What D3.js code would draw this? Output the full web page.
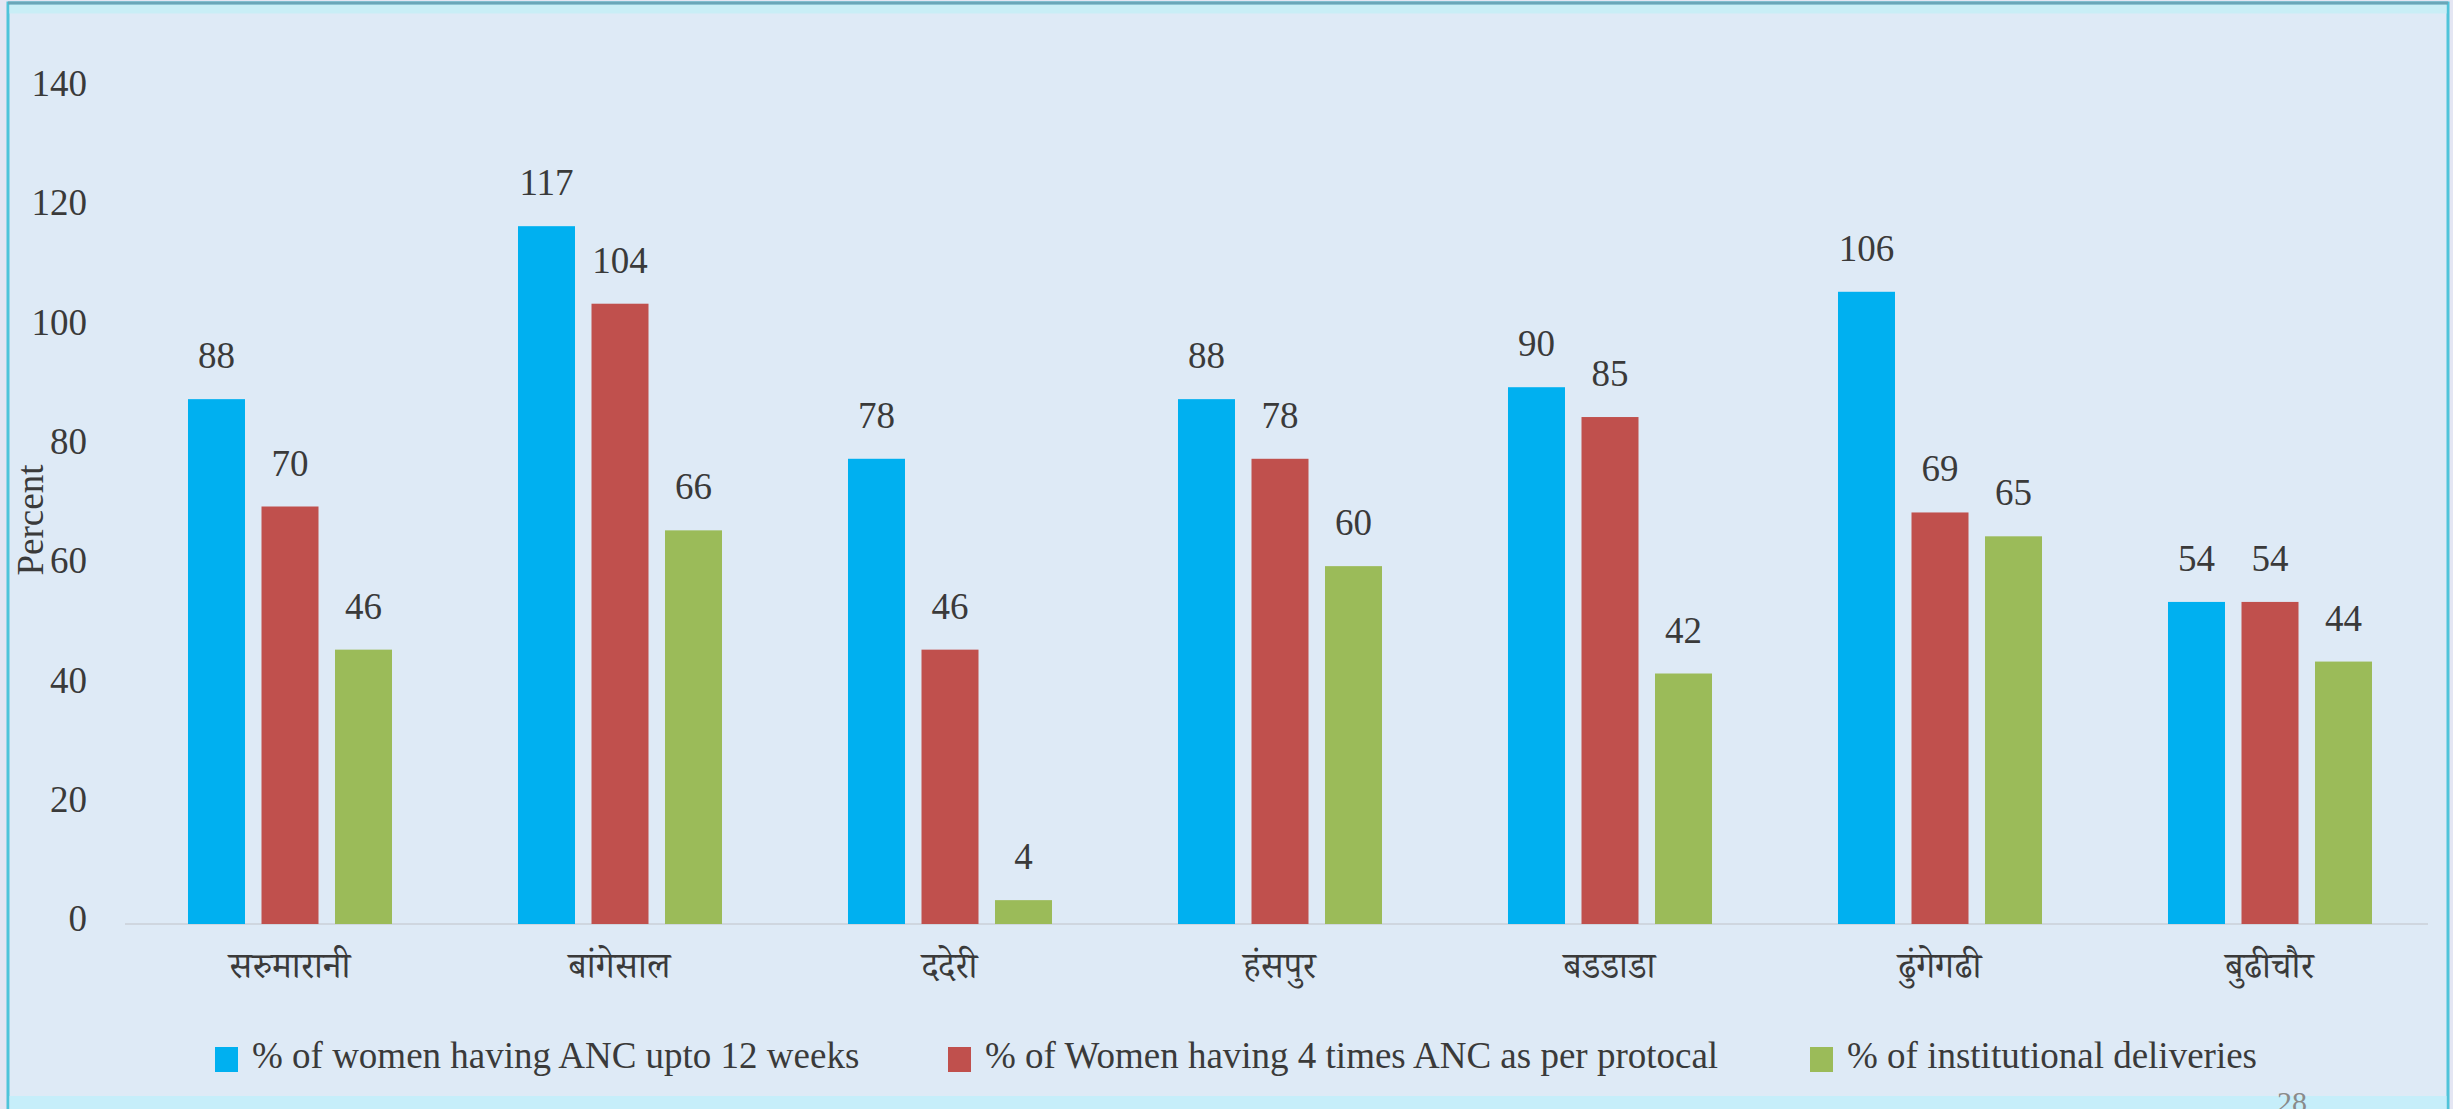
<!DOCTYPE html>
<html>
<head>
<meta charset="utf-8">
<script src="https://cdn.jsdelivr.net/npm/d3@7"></script>
<style>
  html, body { margin: 0; padding: 0; background: #e4e6f3; }
  svg { display: block; }
  text { font-family: "Liberation Serif", "Times New Roman", serif; fill: #3a3a3a; }
</style>
</head>
<body>
<svg id="chart" width="2453" height="1109"></svg>
<script>
const categories = ["सरुमारानी", "बांगेसाल", "ददेरी", "हंसपुर", "बडडाडा", "ढुंगेगढी", "बुढीचौर"];
const seriesNames = [
  "% of women having ANC upto 12 weeks",
  "% of Women having 4 times ANC as per protocal",
  "% of institutional deliveries"
];
const ancUpto12Weeks = [88, 117, 78, 88, 90, 106, 54];
const anc4Times = [70, 104, 46, 78, 85, 69, 54];
const institutionalDeliveries = [46, 66, 4, 60, 42, 65, 44];
const yTicks = [0, 20, 40, 60, 80, 100, 120, 140];
const colors = ["#00b0f0", "#c0504d", "#9bbb59"];
const yAxisTitle = "Percent";
const pageNumber = "28";

const seriesValues = [ancUpto12Weeks, anc4Times, institutionalDeliveries];

const svg = d3.select("#chart");
const W = 2453, H = 1109;

// frame
svg.append("rect").attr("x", 0).attr("y", 0).attr("width", W).attr("height", H).attr("fill", "#e4e6f3");
svg.append("rect").attr("x", 8).attr("y", 3).attr("width", 2440).attr("height", 1120)
  .attr("fill", "#deeaf6").attr("stroke", "#4fc4da").attr("stroke-width", 3);
svg.append("rect").attr("x", 9.5).attr("y", 4.5).attr("width", 2437).attr("height", 9).attr("fill", "#c9eef6");
svg.append("line").attr("x1", 8).attr("x2", 2448).attr("y1", 3).attr("y2", 3).attr("stroke", "#6aa6b8").attr("stroke-width", 3);
svg.append("rect").attr("x", 9.5).attr("y", 1096).attr("width", 2437).attr("height", 13).attr("fill", "#c6eefa");

const x0 = d3.scaleBand().domain(categories).range([124.5, 2434.5]).padding(0);
const x1 = d3.scaleBand().domain(d3.range(seriesNames.length)).range([55.25, 275.75])
  .paddingInner(0.2245).paddingOuter(0.1122);
const y = d3.scaleLinear().domain([0, 140]).range([924, 89]);

// baseline
svg.append("line").attr("x1", 125).attr("x2", 2428).attr("y1", y(0)).attr("y2", y(0))
  .attr("stroke", "#cfd6df").attr("stroke-width", 2);

// y axis labels
const yAxis = d3.axisLeft(y).tickValues(yTicks).tickSize(0).tickPadding(0);
const gy = svg.append("g").attr("transform", "translate(87,0)").call(yAxis);
gy.select(".domain").remove();
gy.selectAll("text").attr("font-size", 37).attr("dy", "0.18em")
  .style("font-family", "\"Liberation Serif\", serif").attr("fill", "#3a3a3a");

// y title
svg.append("text").attr("transform", "translate(43,520) rotate(-90)")
  .attr("text-anchor", "middle").attr("font-size", 37).text(yAxisTitle);

// bars
const groups = svg.append("g").selectAll("g").data(categories).join("g")
  .attr("transform", d => `translate(${x0(d)},0)`);

groups.each(function(cat, ci) {
  const g = d3.select(this);
  seriesValues.forEach((vals, si) => {
    const v = vals[ci];
    g.append("rect").attr("x", x1(si)).attr("width", x1.bandwidth())
      .attr("y", y(v)).attr("height", y(0) - y(v)).attr("fill", colors[si]);
    g.append("text").attr("x", x1(si) + x1.bandwidth() / 2).attr("y", y(v) - 31)
      .attr("text-anchor", "middle").attr("font-size", 37).text(v);
  });
});

// category labels
const xAxis = d3.axisBottom(x0).tickSize(0).tickPadding(0);
const gx = svg.append("g").attr("transform", "translate(0,960)").call(xAxis);
gx.select(".domain").remove();
gx.selectAll("text").attr("font-size", 36).attr("dy", "0.5em")
  .style("font-family", "\"Liberation Serif\", \"Noto Serif Devanagari\", \"Noto Sans Devanagari\", \"Lohit Devanagari\", serif")
  .attr("fill", "#3a3a3a");

// legend
const legendX = [215, 948, 1810];
const legend = svg.append("g").selectAll("g").data(seriesNames).join("g")
  .attr("transform", (d, i) => `translate(${legendX[i]},1047)`);
legend.append("rect").attr("width", 23).attr("height", 25).attr("fill", (d, i) => colors[i]);
legend.append("text").attr("x", 37).attr("y", 21).attr("font-size", 37).text(d => d);

// page number
svg.append("text").attr("x", 2292).attr("y", 1112).attr("text-anchor", "middle")
  .attr("font-size", 30).attr("fill", "#8a8a8a").style("fill", "#8a8a8a").text(pageNumber);
</script>
</body>
</html>
